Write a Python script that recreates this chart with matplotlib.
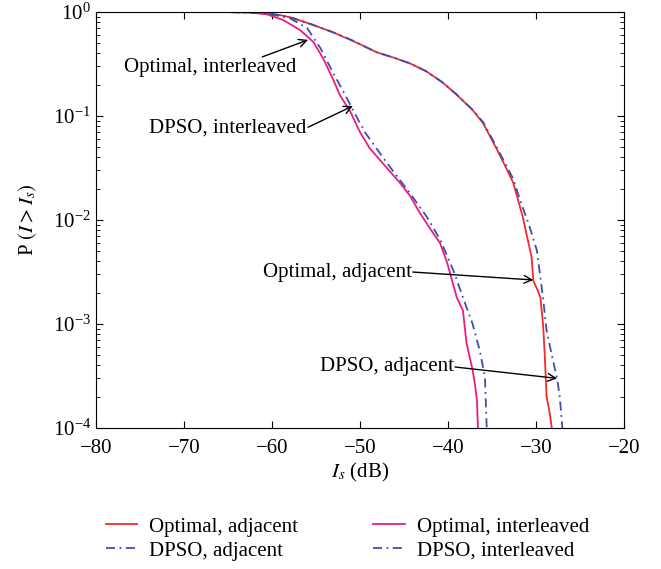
import numpy as np
import matplotlib
matplotlib.use("Agg")
import matplotlib.pyplot as plt

plt.rcParams['font.family'] = ['Liberation Serif', 'DejaVu Serif']
plt.rcParams['mathtext.fontset'] = 'stix'

# Optimal, adjacent
opt_adj_x = [-76, -70, -65, -62.5, -60.5, -59, -57.6, -55.5, -53.1, -51.1, -50, -48.1, -46, -44.3,
             -42.5, -40.6, -39, -37.2, -36, -34.4, -33.5, -32.6, -31.5, -30.5, -30.3,
             -29.8, -29.5, -29.2, -29, -28.8, -28.5, -28.2]
opt_adj_p = [1.0, 1.0, 0.998, 0.99, 0.97, 0.93, 0.875, 0.76, 0.64, 0.54, 0.49, 0.41, 0.36, 0.32,
             0.27, 0.21, 0.16, 0.114, 0.085, 0.047, 0.033, 0.023, 0.0107, 0.0044, 0.0026,
             0.0021, 0.0018, 0.001, 0.0005, 0.0002, 0.00015, 0.0001]

# DPSO, adjacent
dpso_adj_x = [-76, -70, -65, -62.5, -60.5, -59, -57.6, -55.5, -53.1, -51.1, -50, -48.1, -46, -44.3,
              -42.5, -40.6, -39, -37.2, -36, -34.4, -33.5, -32.6, -31.8, -30.8, -29.9,
              -29.2, -28.8, -28.2, -27.6, -27.3, -27.0]
dpso_adj_p = [1.0, 1.0, 0.998, 0.99, 0.97, 0.93, 0.87, 0.76, 0.64, 0.545, 0.49, 0.41, 0.36, 0.32,
              0.27, 0.21, 0.16, 0.115, 0.087, 0.049, 0.035, 0.025, 0.0155, 0.009, 0.0051,
              0.0018, 0.00087, 0.0005, 0.0003, 0.0002, 0.0001]

# Optimal, interleaved
opt_int_x = [-76, -70, -65, -62.5, -60.6, -58.75, -56.8, -55.3, -54.2, -53.1, -52.3, -51.1, -50,
             -48.9, -47.4, -45.5, -44.3, -43.2, -41.7, -40.9, -40.1, -39, -38.3, -37.9,
             -37.2, -36.9, -36.7, -36.6]
opt_int_p = [1.0, 1.0, 0.998, 0.99, 0.95, 0.84, 0.67, 0.515, 0.36, 0.23, 0.16, 0.11, 0.07,
             0.049, 0.035, 0.023, 0.017, 0.0117, 0.0075, 0.006, 0.0039, 0.0018, 0.00135, 0.00066,
             0.00036, 0.00025, 0.00018, 0.0001]

# DPSO, interleaved
dpso_int_x = [-76, -70, -65, -62.5, -60.5, -58, -56, -54.5, -53.1, -51.5, -50.3, -49.4,
              -46.9, -44.3, -42.4, -40.9, -39.4, -38.3, -37.2, -36.4, -35.8, -35.6]
dpso_int_p = [1.0, 1.0, 0.998, 0.99, 0.965, 0.875, 0.70, 0.45, 0.265, 0.149, 0.095, 0.069,
              0.035, 0.018, 0.0107, 0.0065, 0.0033, 0.0018, 0.001, 0.00056, 0.00031, 0.0001]

red = '#f52a2a'
pink = '#ec1c82'
blue = '#3f4fa8'
dashdot = (0, (5, 2.5, 1, 2.5))

fig = plt.figure(figsize=(6.61, 5.69), dpi=100)
ax = fig.add_axes([0.1452, 0.2478, 0.7988, 0.7311])

ax.plot(opt_adj_x, opt_adj_p, color=red, lw=1.3, label='Optimal, adjacent')
ax.plot(dpso_adj_x, dpso_adj_p, color=blue, lw=1.3, ls=dashdot, label='DPSO, adjacent')
ax.plot(opt_int_x, opt_int_p, color=pink, lw=1.3, label='Optimal, interleaved')
ax.plot(dpso_int_x, dpso_int_p, color=blue, lw=1.3, ls=dashdot, label='DPSO, interleaved')

ax.set_yscale('log')
ax.set_xlim(-80, -20)
ax.set_ylim(1e-4, 1)
ax.set_xticks([-80, -70, -60, -50, -40, -30, -20])
ax.tick_params(which='both', direction='in', top=True, right=True, labelsize=15)
ax.tick_params(axis='x', pad=8)
ax.tick_params(which='major', length=5)
ax.tick_params(which='minor', length=3)
ax.set_xlabel(r'$I_s$ (dB)', fontsize=15, labelpad=2)
ax.set_ylabel(r'P $(I > I_s)$', fontsize=15, labelpad=10)

# annotations (text, tail, head)
arrow = dict(arrowstyle='->', color='black', lw=1.0, shrinkA=0, shrinkB=0, mutation_scale=14)
ax.text(-67.0, 0.29, 'Optimal, interleaved', fontsize=15, ha='center', va='center')
ax.annotate('', xy=(-55.9, 0.54), xytext=(-61.1, 0.37), arrowprops=arrow)
ax.text(-65.0, 0.0767, 'DPSO, interleaved', fontsize=15, ha='center', va='center')
ax.annotate('', xy=(-50.8, 0.125), xytext=(-55.9, 0.078), arrowprops=arrow)
ax.text(-52.6, 0.00316, 'Optimal, adjacent', fontsize=15, ha='center', va='center')
ax.annotate('', xy=(-30.3, 0.00265), xytext=(-44.0, 0.00316), arrowprops=arrow)
ax.text(-46.9, 0.000386, 'DPSO, adjacent', fontsize=15, ha='center', va='center')
ax.annotate('', xy=(-27.6, 0.0003), xytext=(-39.2, 0.000386), arrowprops=arrow)

fig.legend(loc='center', bbox_to_anchor=(0.526, 0.053), ncol=2, frameon=False,
           fontsize=15, handlelength=1.5, handletextpad=0.6, columnspacing=3.6,
           labelspacing=0.2)

fig.savefig('out.png', dpi=100)
